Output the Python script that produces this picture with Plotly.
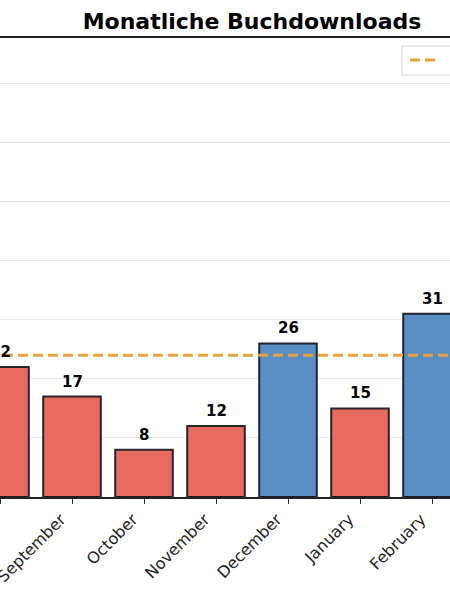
import plotly.graph_objects as go

# monthly downloads (visible part of the chart)
months = ["August", "September", "October", "November", "December", "January", "February"]
downloads = [22, 17, 8, 12, 26, 15, 31]
average = 24
y_ticks = [0, 10, 20, 30, 40, 50, 60, 70]

red = "#E86B5F"
blue = "#5A8FC5"
orange = "#E8A33D"
bar_colors = [blue if v > average else red for v in downloads]

W, H = 450, 600
top, bottom = 38, 103
plot_h = H - top - bottom


def px_x(p):
    return p / W


def px_y(p):
    return 1 - (p - top) / plot_h


fig = go.Figure()
fig.add_trace(
    go.Bar(
        x=months, y=downloads, width=0.8,
        marker=dict(color=bar_colors, line=dict(color="rgba(20,20,30,0.9)", width=2)),
        showlegend=False, hoverinfo="skip",
    )
)
fig.add_trace(
    go.Scatter(
        x=[-1, len(months)], y=[average, average], mode="lines",
        line=dict(color=orange, width=3, dash="10px,5px"),
        showlegend=False, xaxis="x2", hoverinfo="skip",
    )
)

# value labels above bars
for m, v in zip(months, downloads):
    fig.add_annotation(
        x=m, y=v, text=f"<b>{v}</b>", showarrow=False, yanchor="bottom", yshift=4,
        font=dict(size=15, color="black", family="DejaVu Sans"),
    )

# legend box (runs off the right edge, like the reference)
fig.add_shape(type="rect", xref="paper", yref="paper",
              x0=px_x(402), x1=px_x(520), y0=px_y(75), y1=px_y(46),
              line=dict(color="#D5D5D5", width=1), fillcolor="white", layer="above")
fig.add_shape(type="line", xref="paper", yref="paper",
              x0=px_x(410), x1=px_x(440), y0=px_y(60), y1=px_y(60),
              line=dict(color=orange, width=3, dash="10px,5px"), layer="above")
fig.add_annotation(xref="paper", yref="paper", x=px_x(453), y=px_y(60),
                   xanchor="left", yanchor="middle", showarrow=False,
                   text=f"Durchschnitt ({average})", font=dict(size=13, color="#222"))

fig.update_layout(
    width=W, height=H,
    margin=dict(l=0, r=0, t=top, b=bottom),
    paper_bgcolor="white", plot_bgcolor="white",
    title=dict(
        text="<b>Monatliche Buchdownloads</b>", x=252 / W, xanchor="center",
        y=1 - 21 / H, yanchor="middle", yref="container",
        font=dict(size=22, color="black", family="DejaVu Sans"),
    ),
    font=dict(family="DejaVu Sans", color="#222"),
    xaxis=dict(
        type="category", range=[0, 6.25], tickangle=-45,
        tickfont=dict(size=16, color="#222"), ticklabelshift=-11,
        ticks="outside", ticklen=5, tickcolor="#333", tickwidth=1.2,
        showline=True, linecolor="#222", linewidth=1.5, mirror=True,
        showgrid=False, automargin=False,
    ),
    xaxis2=dict(range=[0, 6.25], overlaying="x", visible=False),
    yaxis=dict(
        range=[0, 77.7], tickvals=y_ticks, showticklabels=False,
        showgrid=True, gridcolor="#E6E6E6", gridwidth=1, zeroline=False,
        automargin=False,
    ),
    showlegend=False,
)

# drop the browser's default body margin so the figure sits at the page corner
fig.write_html("out.html", config={"displayModeBar": False},
               post_script="document.body.style.margin='0';")
